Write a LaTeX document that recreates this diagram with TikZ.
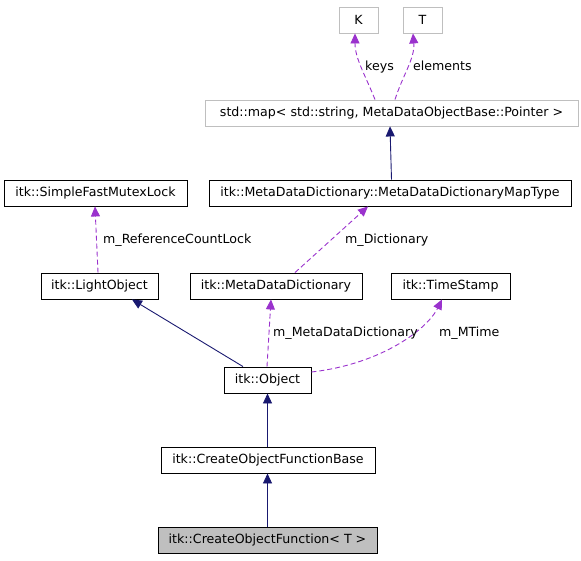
\documentclass[tikz,border=0pt]{standalone}
\usepackage{fontspec}
\setmainfont{DejaVu Sans}
\usepackage{tikz}
\usetikzlibrary{arrows.meta}

\definecolor{inhcol}{HTML}{191970}
\definecolor{usecol}{HTML}{9A32CD}
\definecolor{extcol}{HTML}{BFBFBF}

\begin{document}
\begin{tikzpicture}[x=1pt, y=-1pt,
  every node/.style={font=\fontsize{12.6}{14}\selectfont, inner sep=0pt},
  cls/.style={draw=black, line width=0.9pt, minimum height=26pt, fill=white},
  ext/.style={cls, draw=extcol},
  self/.style={cls, fill=extcol},
  inh/.style={draw=inhcol, line width=0.9pt, -{Triangle[length=10pt,width=9pt]}},
  use/.style={draw=usecol, line width=0.9pt, dash pattern=on 5pt off 3pt, -{Triangle[length=10pt,width=9pt]}},
  lbl/.style={anchor=west, text height=9pt, text depth=2.5pt}]
\useasboundingbox (0,0) rectangle (581,560);

% classes
\node[ext, minimum width=39pt] (K) at (358.5,20) {K};
\node[ext, minimum width=39pt] (T) at (422.5,20) {T};
\node[ext, minimum width=373pt] (map) at (391.5,113) {std::map< std::string, MetaDataObjectBase::Pointer >};
\node[cls, minimum width=362pt] (maptype) at (390,193) {itk::MetaDataDictionary::MetaDataDictionaryMapType};
\node[cls, minimum width=183pt] (mutex) at (95.5,193) {itk::SimpleFastMutexLock};
\node[cls, minimum width=117pt] (light) at (99.5,286) {itk::LightObject};
\node[cls, minimum width=172pt] (mdd) at (276,286) {itk::MetaDataDictionary};
\node[cls, minimum width=119pt] (stamp) at (450.5,286) {itk::TimeStamp};
\node[cls, minimum width=87pt] (obj) at (267.5,380) {itk::Object};
\node[cls, minimum width=214pt] (base) at (268,460) {itk::CreateObjectFunctionBase};
\node[self, minimum width=219pt] (func) at (267.5,540) {itk::CreateObjectFunction< T >};

% inheritance
\draw[inh] (maptype.north -| map.south) -- (map.south -| maptype.north);
\draw[inh] ([xshift=-24.5pt]obj.north) -- ([xshift=32.5pt]light.south);
\draw[inh] (base.north -| obj.south) -- (obj.south);
\draw[inh] (func.north) -- (base.south -| func.north);

% usage
\draw[use] ([xshift=-16.5pt]map.north) .. controls +(-10,-25) and +(0,25) .. ([xshift=-3.5pt]K.south);
\draw[use] ([xshift=3.5pt]map.north) .. controls +(8,-25) and +(2,25) .. ([xshift=-9.5pt]T.south);
\draw[use] ([xshift=19pt]mdd.north) -- ([xshift=-22pt]maptype.south);
\draw[use] ([xshift=-1.5pt]light.north) -- ([xshift=-0.5pt]mutex.south);
\draw[use] ([xshift=-0.5pt]obj.north) -- ([xshift=-5pt]mdd.south);
\draw[use] ([yshift=8pt]obj.east) .. controls +(70,-8) and +(-15,30) .. ([xshift=-8.5pt]stamp.south);

% labels
\node[lbl] (lkeys) at (365,67) {keys};
\node[lbl] (lelem) at (413,67) {elements};
\node[lbl] (ldict) at (345,240) {m\_Dictionary};
\node[lbl] (llock) at (103,240) {m\_ReferenceCountLock};
\node[lbl] (lmdd) at (273,333) {m\_MetaDataDictionary};
\node[lbl] (ltime) at (439,333) {m\_MTime};
\end{tikzpicture}
\end{document}
